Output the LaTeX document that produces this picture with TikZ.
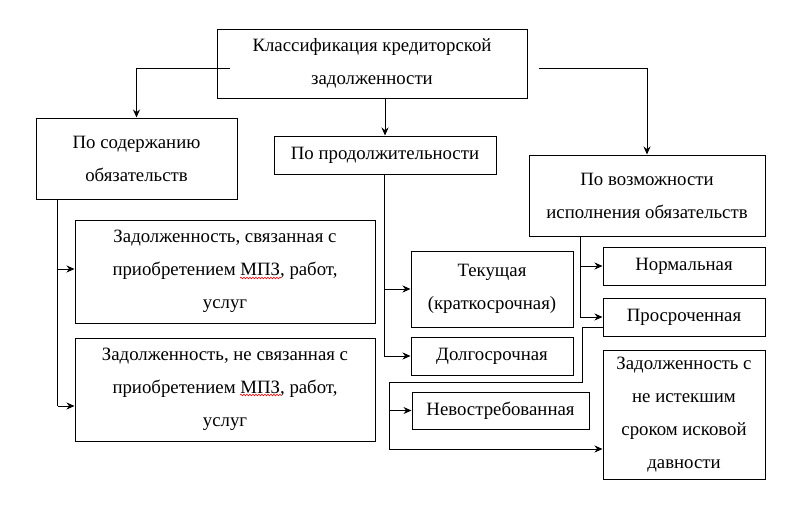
\documentclass[tikz,border=0pt]{standalone}
\usepackage{fontspec}
\setmainfont{Liberation Serif}
\usetikzlibrary{arrows.meta,decorations.pathmorphing}
\newcommand{\boxfont}{\fontsize{18.8}{33}\selectfont}
\begin{document}
\begin{tikzpicture}[x=1pt, y=-1pt,
    box/.style={draw, line width=1pt, inner sep=0pt, align=center, font=\boxfont},
    link/.style={line width=1pt},
    arr/.style={line width=1pt, -{Stealth[length=8pt,width=7pt]}}]
        \useasboundingbox (0,0) rectangle (795,514);
        % Radice
        \node (cls) at (372,63.5) [box, minimum width=310pt, minimum height=69pt] {Классификация кредиторской\\задолженности};
        
        % Primo livello
        \node (soderz) at (136.5,158.5) [box, minimum width=201pt, minimum height=81pt] {По содержанию\\обязательств};
        \node (prod) at (385,155) [box, minimum width=222pt, minimum height=38pt] {По продолжительности};
        \node (vozm) at (647,195.5) [box, minimum width=236pt, minimum height=81pt] {По возможности\\исполнения обязательств};
        
        % Secondo livello
        \node (z1) at (225,271.5) [box, minimum width=300pt, minimum height=103pt] {Задолженность, связанная с\\приобретением МПЗ, работ,\\услуг};
        \node (z2) at (225,389.5) [box, minimum width=300pt, minimum height=103pt] {Задолженность, не связанная с\\приобретением МПЗ, работ,\\услуг};
        \node (tek) at (492,289) [box, minimum width=162pt, minimum height=76pt] {Текущая\\(краткосрочная)};
        \node (dolg) at (492,356) [box, minimum width=162pt, minimum height=38pt] {Долгосрочная};
        \node (norm) at (684,266) [box, minimum width=162pt, minimum height=38pt] {Нормальная};
        \node (prosr) at (684,317) [box, minimum width=162pt, minimum height=38pt] {Просроченная};
        
        % Terzo livello
        \node (nev) at (500.5,410.5) [box, minimum width=177pt, minimum height=37pt] {Невостребованная};
        \node (zdav) at (684,414.5) [box, minimum width=162pt, minimum height=129pt] {Задолженность с\\не истекшим\\сроком исковой\\давности};
        
        % Punti di svolta
        \coordinate (c1) at (230,68);
        \coordinate (c2) at (539,68);
        \coordinate (s) at ([xshift=22pt]soderz.south west);
        \coordinate (v) at ([xshift=52pt]vozm.south west);
        \coordinate (p1) at (582,382);
        \coordinate (p2) at (389,382);
        
        % Collegamenti
        \draw[arr] (c1) -| (soderz.north);
        \draw[arr] (cls.south -| prod.north) -- (prod.north);
        \draw[arr] (c2) -| (vozm.north);
        \draw[link] (s) -- (s |- z2.west);
        \draw[arr] (s |- z1.west) ++(0,-2.5) -- ([yshift=2.5pt]z1.west);
        \draw[arr] (s |- z2.west) ++(0,16.5) -- ([yshift=-16.5pt]z2.west);
        \draw[link] (s |- z2.west) -- ++(0,16.5);
        \draw[arr] (prod.south -| 384,0) |- (tek.west);
        \draw[arr] (prod.south -| 384,0) |- (dolg.west);
        \draw[arr] (v) |- (norm.west);
        \draw[arr] (v) |- (prosr.west);
        \draw[link] ([yshift=-10pt]prosr.west) -| (p1) -- (p2);
        \draw[arr] (p2) |- (nev.west);
        \draw[arr] (p2) |- ([yshift=-34.5pt]zdav.west);
        
        % Sottolineature
        \draw[red, line width=0.6pt, decorate, decoration={snake, amplitude=0.8pt, segment length=3pt}] (240,278) -- (281,278);
        \draw[red, line width=0.6pt, decorate, decoration={snake, amplitude=0.8pt, segment length=3pt}] (240,395) -- (281,395);
    \end{tikzpicture}
\end{document}
